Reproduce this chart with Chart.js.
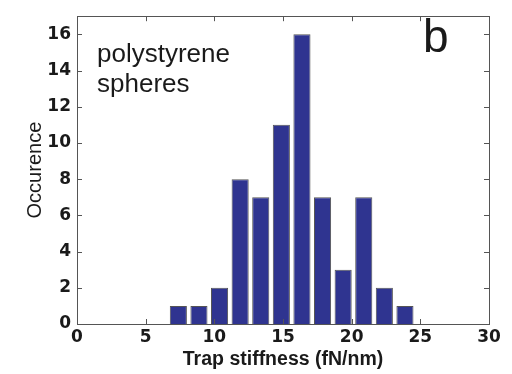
<!DOCTYPE html>
<html>
<head>
<meta charset="utf-8">
<script src="https://cdn.jsdelivr.net/npm/chart.js@4.4.1/dist/chart.umd.min.js"></script>
<style>
  html, body { margin: 0; padding: 0; background: #fff; }
  #wrap { width: 512px; height: 374px; }
</style>
</head>
<body>
<div id="wrap"><canvas id="hist"></canvas></div>
<script>
// Histogram of trap stiffness, bin centres (bin width 1.5)
const binCenters = [7.38, 8.88, 10.38, 11.88, 13.38, 14.88, 16.38, 17.88, 19.38, 20.88, 22.38, 23.88];
const counts = [1, 1, 2, 8, 7, 11, 16, 7, 3, 7, 2, 1];
const xTicks = [0, 5, 10, 15, 20, 25, 30];
const yTicks = [0, 2, 4, 6, 8, 10, 12, 14, 16];

const tickFont = { family: "'DejaVu Sans', sans-serif", size: 17, weight: 'bold' };

// MATLAB style tick marks pointing into the box, on all four sides
const innerTicks = {
    id: 'innerTicks',
    afterDraw(chart) {
        const { ctx, chartArea: a, scales } = chart;
        const len = 5;
        ctx.save();
        ctx.strokeStyle = '#555';
        ctx.lineWidth = 1;
        ctx.beginPath();
        xTicks.forEach(v => {
            const x = Math.round(scales.x.getPixelForValue(v)) + 0.5;
            ctx.moveTo(x, a.bottom); ctx.lineTo(x, a.bottom - len);
            ctx.moveTo(x, a.top); ctx.lineTo(x, a.top + len);
        });
        yTicks.forEach(v => {
            const y = Math.round(scales.y.getPixelForValue(v)) + 0.5;
            ctx.moveTo(a.left, y); ctx.lineTo(a.left + len, y);
            ctx.moveTo(a.right, y); ctx.lineTo(a.right - len, y);
        });
        ctx.stroke();
        ctx.strokeRect(Math.round(a.left) + 0.5, Math.round(a.top) + 0.5,
            Math.round(a.right - a.left), Math.round(a.bottom - a.top));

        // annotations
        ctx.fillStyle = '#1a1a1a';
        ctx.textBaseline = 'alphabetic';
        ctx.textAlign = 'left';
        ctx.font = "26px 'Liberation Sans', Arial, sans-serif";
        ctx.fillText('polystyrene', 97, 62);
        ctx.fillText('spheres', 97, 92);
        ctx.font = "46px 'Liberation Sans', Arial, sans-serif";
        ctx.fillText('b', 423, 52);
        ctx.restore();
    }
};

new Chart(document.getElementById('hist'), {
    type: 'bar',
    data: {
        datasets: [{
            data: binCenters.map((c, i) => ({ x: c, y: counts[i] })),
            backgroundColor: '#2f3490',
            borderColor: '#555555',
            borderWidth: 1,
            barPercentage: 0.83,
            categoryPercentage: 1.0
        }]
    },
    plugins: [innerTicks],
    options: {
        responsive: true,
        maintainAspectRatio: false,
        animation: false,
        layout: { padding: { top: 5, right: 23, left: 23, bottom: 3 } },
        plugins: {
            legend: { display: false },
            tooltip: { enabled: false }
        },
        scales: {
            x: {
                type: 'linear',
                min: 0,
                max: 30,
                offset: false,
                afterBuildTicks: s => { s.ticks = xTicks.map(v => ({ value: v })); },
                afterFit: s => { s.height = 47; },
                grid: { display: false, drawTicks: false },
                border: { display: false },
                ticks: { font: tickFont, color: '#1a1a1a', padding: 3, maxRotation: 0 },
                title: {
                    display: true,
                    text: 'Trap stiffness (fN/nm)',
                    font: { family: "'Liberation Sans', Arial, sans-serif", size: 19.5, weight: 'bold' },
                    color: '#1a1a1a',
                    padding: { top: 2, bottom: 0 }
                }
            },
            y: {
                min: 0,
                max: 17,
                afterBuildTicks: s => { s.ticks = yTicks.map(v => ({ value: v })); },
                afterFit: s => { s.width = 54; },
                grid: { display: false, drawTicks: false },
                border: { display: false },
                ticks: { font: tickFont, color: '#1a1a1a', padding: 6 },
                title: {
                    display: true,
                    text: 'Occurence',
                    font: { family: "'Liberation Sans', Arial, sans-serif", size: 20 },
                    color: '#1a1a1a',
                    padding: { top: 0, bottom: 6 }
                }
            }
        }
    }
});
</script>
</body>
</html>
